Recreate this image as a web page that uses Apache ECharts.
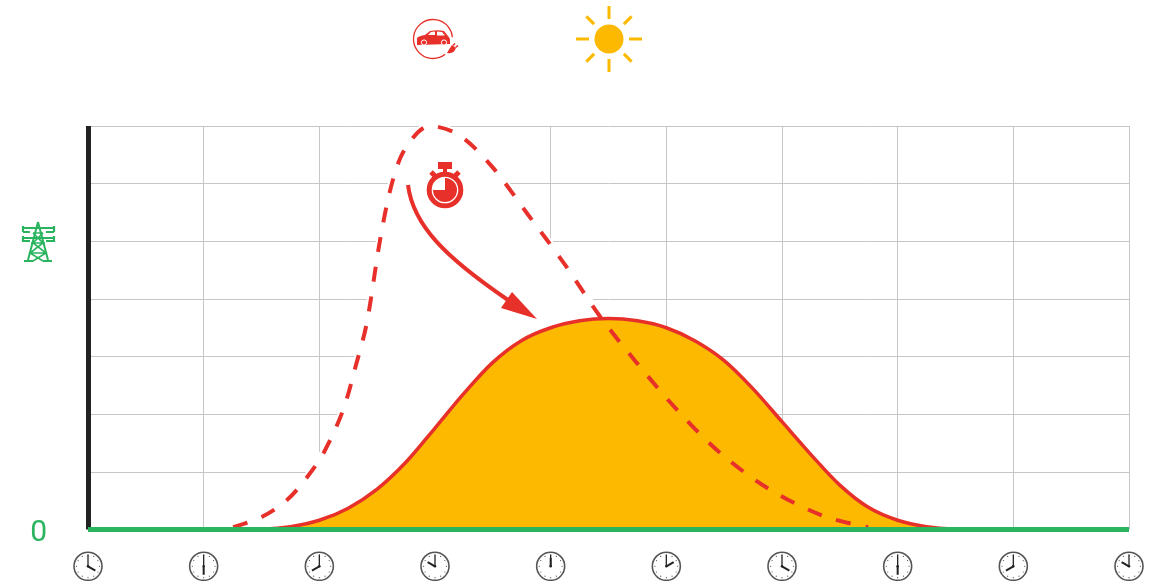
<!DOCTYPE html>
<html><head><meta charset="utf-8">
<style>html,body{margin:0;padding:0;background:#fff}#c{width:1158px;height:581px}</style>
<script src="https://cdn.jsdelivr.net/npm/echarts@6/dist/echarts.min.js"></script>
</head><body><div id="c"></div>
<script>
const clockHours=[4,6,8,10,12,14,16,18,20,22];
const solidHours=[6,7,7.5,8,8.5,9,9.5,10,10.5,11,11.5,12,12.5,13,13.5,14,14.5,15,15.5,16,16.5,17,17.5,18,18.5,19,20];
const solidValues=[0,0.01,0.05,0.16,0.37,0.7,1.17,1.76,2.36,2.9,3.28,3.5,3.62,3.66,3.62,3.5,3.27,2.93,2.44,1.87,1.3,0.77,0.38,0.16,0.05,0.01,0];
const dashedHours=[6.51,7.01,7.44,7.79,8.08,8.41,8.63,8.82,9.05,9.27,9.5,9.91,10.42,10.99,11.61,12.25,12.85,13.49,14.19,14.93,15.78,16.73,17.49];
const dashedValues=[0.04,0.22,0.51,0.91,1.34,2.07,2.84,3.58,5.02,6.06,6.63,7,6.84,6.29,5.46,4.59,3.7,2.89,2.07,1.33,0.7,0.23,0.04];
const baselineHours=[4,22];
const baselineValues=[0,0];
const yTicks=['0'];

const RED='#e8302a',ORANGE='#fcb900',GREEN='#2ab45f',GRID='#c6c6c6';
const zip=(a,b)=>a.map((v,i)=>[v,b[i]]);

function clockItem(params,api){
  const h=api.value(0);
  const p=api.coord([h,0]);
  const cx=p[0],cy=p[1]+36.8,r=14;
  const kids=[{type:'circle',shape:{cx,cy,r},style:{fill:'#fff',stroke:'#555',lineWidth:1.6}}];
  for(let i=0;i<12;i++){
    const a=i*Math.PI/6;
    kids.push({type:'circle',shape:{cx:cx+Math.sin(a)*(r-2.6),cy:cy-Math.cos(a)*(r-2.6),r:0.6},style:{fill:'#555'}});
  }
  const ha=((h%12)/12)*Math.PI*2;
  kids.push({type:'line',shape:{x1:cx,y1:cy,x2:cx,y2:cy-11.5},style:{stroke:'#222',lineWidth:1.3}});
  kids.push({type:'line',shape:{x1:cx,y1:cy,x2:cx+Math.sin(ha)*8.5,y2:cy-Math.cos(ha)*8.5},style:{stroke:'#222',lineWidth:2}});
  kids.push({type:'circle',shape:{cx,cy,r:1.3},style:{fill:'#222'}});
  return {type:'group',children:kids};
}

const sunRays=[];
for(let i=0;i<8;i++){
  const a=i*Math.PI/4,s=Math.sin(a),c=Math.cos(a);
  const r1=i%2?21:20,r2=i%2?32:33;
  sunRays.push({type:'line',shape:{x1:609+s*r1,y1:39-c*r1,x2:609+s*r2,y2:39-c*r2},style:{stroke:ORANGE,lineWidth:3}});
}
const pathEl=(d,style)=>({type:'path',shape:{pathData:d},style});
const pyl=(d,w)=>pathEl(d,{fill:null,stroke:GREEN,lineWidth:w||1.4});

const icons=[
  // sun
  {type:'circle',shape:{cx:609,cy:39,r:14.5},style:{fill:ORANGE}},
  ...sunRays,
  // car in circle
  {type:'arc',shape:{cx:433,cy:39,r:19.5,startAngle:0.9,endAngle:Math.PI*2-0.09},style:{fill:null,stroke:RED,lineWidth:1.3}},
  pathEl('M417 43 L417 38 Q419 36 425 35 L430 31 Q438 29.5 444 31 L448 36 Q450 38 450 40 L450 44 L417 45 Z',{fill:RED}),
  {type:'polygon',shape:{points:[[428,35],[431,32],[435,31.5],[435,35]]},style:{fill:'#fff'}},
  {type:'polygon',shape:{points:[[437,31.5],[442,32],[445,35.5],[437,35.5]]},style:{fill:'#fff'}},
  {type:'circle',shape:{cx:424,cy:42.5,r:2.6},style:{fill:RED,stroke:'#fff',lineWidth:1}},
  {type:'circle',shape:{cx:444,cy:42.5,r:2.6},style:{fill:RED,stroke:'#fff',lineWidth:1}},
  // plug
  pathEl('M447 53 L449 49.5 L452 45 L456 48 L454 51.5 Q451 54 447 53 Z',{fill:RED}),
  {type:'line',shape:{x1:453,y1:45.5,x2:455,y2:43.5},style:{stroke:RED,lineWidth:1.6}},
  {type:'line',shape:{x1:455.5,y1:47.5,x2:458,y2:45.5},style:{stroke:RED,lineWidth:1.6}},
  // pylon
  pyl('M38 222 L28 260 M38 222 L48 260 M24 261 L33 261 M43 261 L52 261',2),
  pyl('M33 233 L43 243 L30 253 L43 261 M43 233 L33 243 L46 253 L33 261 M33 233 L43 233 M31 243 L45 243 M30 253 L46 253',1.6),
  pyl('M23 228 L54 228 M23 238 L54 238',2),
  pyl('M23 226 L23 232 M54 226 L54 232 M23 236 L23 242 M54 236 L54 242 M23 232 L30 232 M46 232 L54 232 M23 241 L30 241 M46 241 L54 241',2.2),
  // stopwatch
  {type:'rect',shape:{x:438,y:162,width:14,height:7},style:{fill:RED}},
  {type:'rect',shape:{x:443,y:168,width:4,height:5},style:{fill:RED}},
  {type:'line',shape:{x1:431,y1:172,x2:436,y2:177},style:{stroke:RED,lineWidth:5}},
  {type:'line',shape:{x1:459,y1:172,x2:454,y2:177},style:{stroke:RED,lineWidth:5}},
  {type:'circle',shape:{cx:445,cy:190,r:15.8},style:{fill:'#fff',stroke:RED,lineWidth:5}},
  pathEl('M445 190 L445 178 A12 12 0 1 1 433 190 Z',{fill:RED}),
  // arrow
  pathEl('M408 185 C413 225 445 257 508 300',{fill:null,stroke:RED,lineWidth:4}),
  {type:'polygon',shape:{points:[[537,319],[501,308],[512,292]]},style:{fill:RED}}
];

const chart=echarts.init(document.getElementById('c'),null,{renderer:'canvas'});
chart.setOption({
  animation:false,
  backgroundColor:'#fff',
  grid:{left:88,right:29,top:126,bottom:51.5},
  xAxis:{type:'value',min:4,max:22,interval:2,
    axisLine:{show:false},axisTick:{show:false},axisLabel:{show:false},
    splitLine:{show:true,lineStyle:{color:GRID,width:1}}},
  yAxis:{type:'value',min:0,max:7,interval:1,
    axisLine:{show:true,onZero:false,lineStyle:{color:'#222',width:5,cap:'butt'}},
    axisTick:{show:false},
    axisLabel:{margin:41,
      formatter:v=>yTicks.includes(String(v))?'{z|'+v+'}':'',
      rich:{z:{color:GREEN,fontSize:30,fontFamily:'Roboto',padding:[8,0,0,0]}}},
    splitLine:{show:true,lineStyle:{color:GRID,width:1}}},
  series:[
    {type:'line',name:'mask',z:2,data:zip(dashedHours,dashedValues),smooth:0.33,symbol:'none',
      lineStyle:{width:8,color:'#fff'},areaStyle:{color:'#fff',opacity:1}},
    {type:'line',name:'solar',z:3,data:zip(solidHours,solidValues),smooth:0.33,symbol:'none',
      lineStyle:{color:RED,width:3.5},areaStyle:{color:ORANGE,opacity:1}},
    {type:'line',name:'demand',z:4,data:zip(dashedHours,dashedValues),smooth:0.33,symbol:'none',
      lineStyle:{color:RED,width:4,type:[15,15],cap:'butt'}},
    {type:'line',name:'baseline',z:5,data:zip(baselineHours,baselineValues),symbol:'none',
      lineStyle:{color:GREEN,width:5,cap:'butt'}},
    {type:'custom',name:'clocks',z:6,silent:true,clip:false,
      data:clockHours.map(h=>[h,0]),encode:{x:0,y:1},renderItem:clockItem},
    {type:'custom',name:'icons',z:7,silent:true,clip:false,
      data:[[4,0]],encode:{x:0,y:1},renderItem:()=>({type:'group',children:icons})}
  ]
});
</script></body></html>
